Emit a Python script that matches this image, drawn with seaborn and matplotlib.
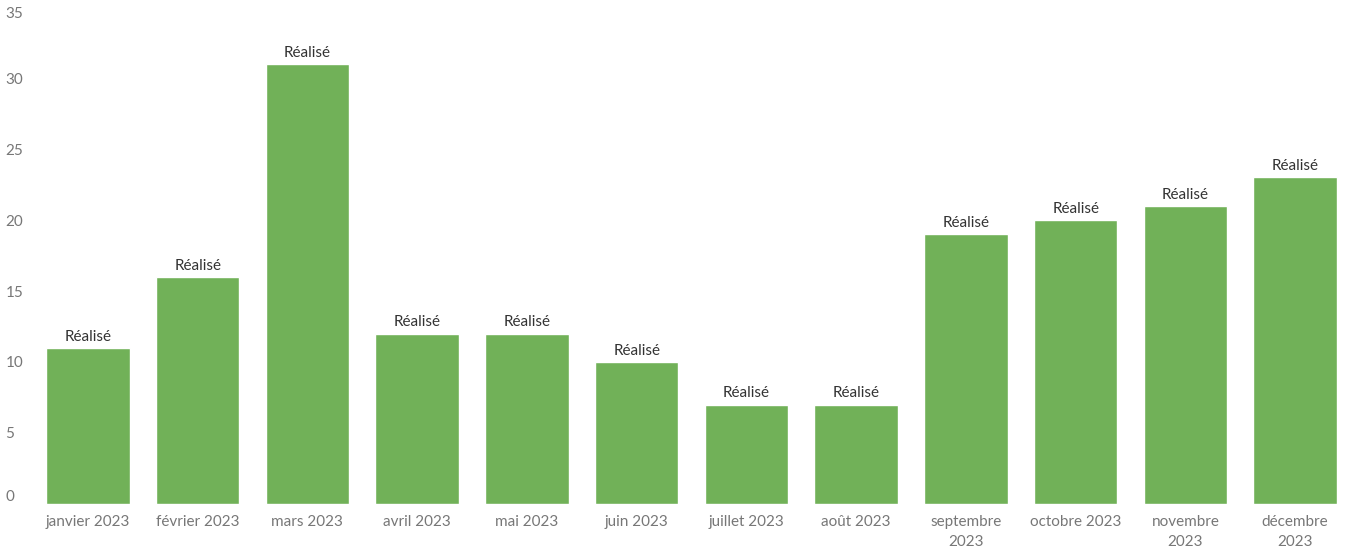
import matplotlib
matplotlib.use("Agg")
import matplotlib.pyplot as plt
import seaborn as sns

# données
mois = ["janvier 2023", "février 2023", "mars 2023", "avril 2023", "mai 2023",
        "juin 2023", "juillet 2023", "août 2023", "septembre\n2023",
        "octobre 2023", "novembre\n2023", "décembre\n2023"]
realise = [11, 16, 31, 12, 12, 10, 7, 7, 19, 20, 21, 23]
etiquette = "Réalisé"
yticks = [0, 5, 10, 15, 20, 25, 30, 35]

sns.set_style("white")
plt.rcParams['font.family'] = ['Lato', 'DejaVu Sans']

fig = plt.figure(figsize=(13.5, 5.54), dpi=100)
ax = fig.add_axes([0.0245, 0.0903, 0.9755, 0.8970])

sns.barplot(x=mois, y=realise, color="#71b158", saturation=1, width=0.76, ax=ax)

# étiquette au-dessus de chaque barre
for i, v in enumerate(realise):
    ax.annotate(etiquette, (i, v), xytext=(0, 3), textcoords="offset points",
                ha="center", va="bottom", fontsize=11, color="#333333")

ax.set_ylim(0, 35)
ax.set_xlim(-0.5, 11.5)
ax.set_yticks(yticks)
ax.set_yticklabels([str(t) for t in yticks])
for spine in ax.spines.values():
    spine.set_visible(False)
ax.tick_params(axis="y", length=0, pad=20, labelsize=11, labelcolor="#777777")
ax.tick_params(axis="x", length=0, pad=8, labelsize=11, labelcolor="#777777")
for lab in ax.get_xticklabels():
    lab.set_linespacing(1.55)
for lab in ax.get_yticklabels():
    lab.set_ha("left")
labs = ax.get_yticklabels()
labs[0].set_va("bottom")
labs[-1].set_va("top")

fig.savefig("out.png", dpi=100)
